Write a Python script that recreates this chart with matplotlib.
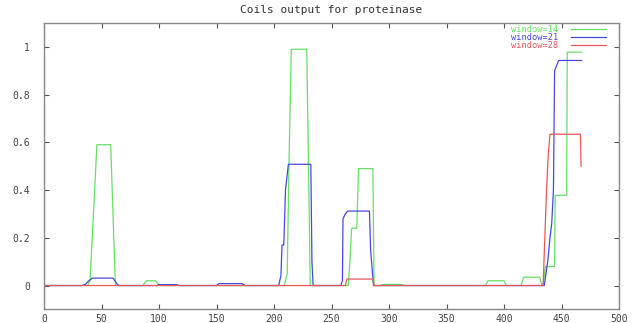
import matplotlib
matplotlib.use("Agg")
import matplotlib.pyplot as plt
from matplotlib.lines import Line2D

title = "Coils output for proteinase"
labels = ["window=14", "window=21", "window=28"]
colors = ["#66e066", "#4848e0", "#e85858"]

# window=14 (green)
w14_x = [1, 38, 40, 43, 46, 58, 60, 62, 63, 86, 89, 97, 100, 104, 209, 211.5, 213, 215, 228.5, 230, 231.5,
         264.5, 266, 267.5, 272, 273.5, 286, 287, 292, 296, 310, 314, 384, 386, 400, 402, 415, 417, 431, 433,
         434, 436, 444, 444.5, 454.5, 455, 467.5]
w14_y = [0, 0, 0.02, 0.3, 0.59, 0.59, 0.3, 0.01, 0, 0, 0.02, 0.02, 0.002, 0, 0, 0.05, 0.5, 0.99, 0.99, 0.5, 0,
         0, 0.1, 0.24, 0.24, 0.49, 0.49, 0, 0, 0.005, 0.005, 0, 0, 0.02, 0.02, 0, 0, 0.035, 0.035, 0,
         0, 0.08, 0.08, 0.378, 0.378, 0.978, 0.978]

# window=21 (blue)
w21_x = [1, 33, 36, 39, 42, 60, 63, 65, 98, 100, 115, 118, 150, 152, 172, 175, 204, 206, 207, 208.5, 210, 212.5,
         232, 233, 234, 258, 259.5, 260, 262, 264, 283, 284, 286.5, 435, 436.5, 438, 440, 441.5, 443, 444,
         447.5, 467.5]
w21_y = [0, 0, 0.005, 0.02, 0.031, 0.031, 0.01, 0, 0, 0.004, 0.004, 0, 0, 0.008, 0.008, 0, 0, 0.04, 0.17, 0.17,
         0.4, 0.508, 0.508, 0.1, 0, 0, 0.02, 0.28, 0.3, 0.312, 0.312, 0.15, 0, 0, 0.05, 0.1, 0.2, 0.26, 0.4,
         0.9, 0.943, 0.943]

# window=28 (red)
w28_x = [1, 262, 263.5, 286, 287, 434, 435.5, 437, 438.5, 440, 466.5, 467]
w28_y = [0, 0, 0.027, 0.027, 0, 0, 0.2, 0.4, 0.55, 0.634, 0.634, 0.5]

xticks = [0, 50, 100, 150, 200, 250, 300, 350, 400, 450, 500]
yticks = [0, 0.2, 0.4, 0.6, 0.8, 1]
ytick_labels = ["0", "0.2", "0.4", "0.6", "0.8", "1"]

W, H = 641, 323
fig = plt.figure(figsize=(W / 100, H / 100), dpi=100)
ax = fig.add_axes([44 / W, 1 - 309.4 / H, (619 - 44) / W, (309.4 - 23) / H])

mono = "DejaVu Sans Mono"
series = [(w14_x, w14_y), (w21_x, w21_y), (w28_x, w28_y)]
for (xs, ys), c in zip(series, colors):
    ax.plot(xs, ys, color=c, lw=0.9)

ax.set_xlim(0, 500)
ax.set_ylim(-0.1, 1.1)
ax.set_xticks(xticks)
ax.set_xticklabels([str(t) for t in xticks], fontfamily=mono, fontsize=7, color="#444444")
ax.set_yticks(yticks)
ax.set_yticklabels(ytick_labels, fontfamily=mono, fontsize=7, color="#444444")
ax.tick_params(axis="both", direction="in", length=3.5, width=0.8, color="#555555",
               top=True, right=True)
ax.tick_params(axis="x", pad=3)
ax.tick_params(axis="y", pad=10)
for s in ax.spines.values():
    s.set_color("#888888")
    s.set_linewidth(1.0)

fig.text(331.5 / W, 1 - 10 / H, title, ha="center", va="center", fontfamily=mono,
         fontsize=8, color="#333333")

# legend (manual, gnuplot style)
rows = [29, 37, 45]
for lab, c, py in zip(labels, colors, rows):
    fig.text(558 / W, 1 - py / H, lab, ha="right", va="center", fontfamily=mono, fontsize=6.2, color=c)
    fig.add_artist(Line2D([571 / W, 606 / W], [1 - py / H, 1 - py / H], color=c, lw=0.9,
                          transform=fig.transFigure))

fig.savefig("out.png", dpi=100)
